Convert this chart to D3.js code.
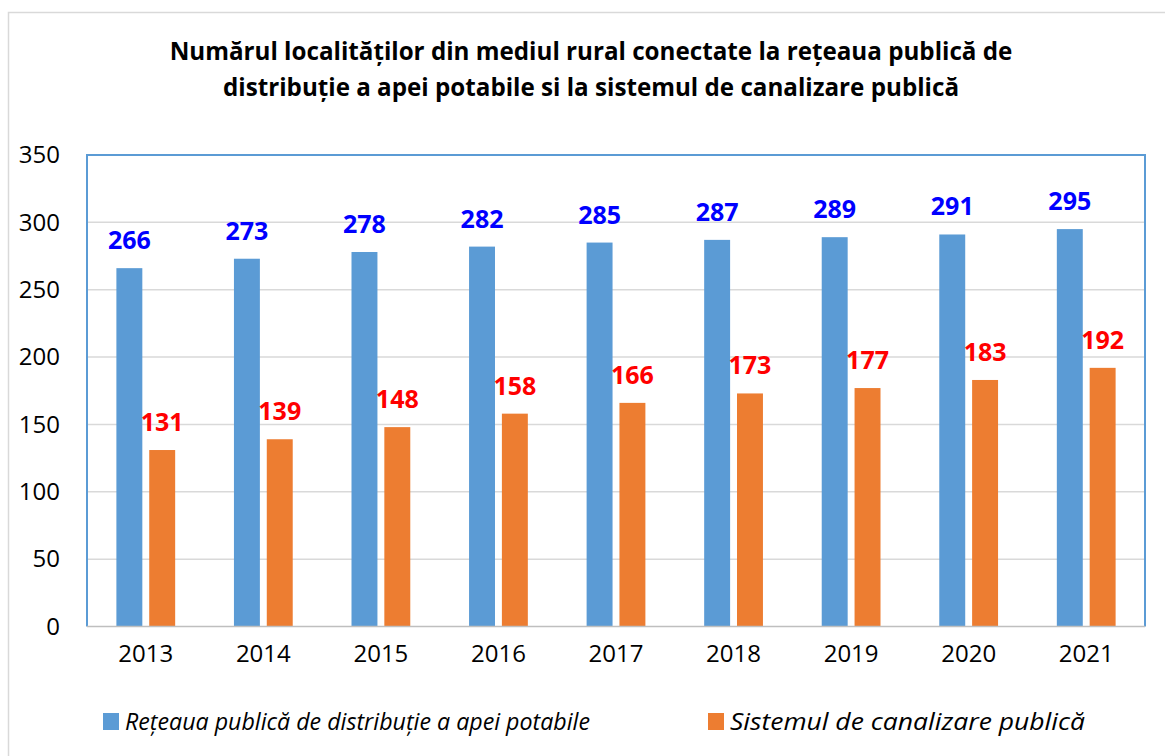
<!DOCTYPE html>
<html>
<head>
<meta charset="utf-8">
<script src="https://cdn.jsdelivr.net/npm/d3@7"></script>
<style>
  body { margin: 0; background: #fff; }
  svg { display: block; font-family: "Open Sans", "Noto Sans", sans-serif; }
</style>
</head>
<body>
<div id="chart"></div>
<script>
// Chart data
const years = ["2013", "2014", "2015", "2016", "2017", "2018", "2019", "2020", "2021"];
const apaValues = [266, 273, 278, 282, 285, 287, 289, 291, 295];
const canalValues = [131, 139, 148, 158, 166, 173, 177, 183, 192];
const seriesNames = ["Rețeaua publică de distribuție a apei potabile", "Sistemul de canalizare publică"];
const yTicks = [0, 50, 100, 150, 200, 250, 300, 350];
const titleLines = [
  "Numărul localităților din mediul rural conectate la rețeaua publică de",
  "distribuție a apei potabile si la sistemul de canalizare publică"
];

const svgWidth = 1165;
const svgHeight = 756;

// plot area edges
const plot = { left: 87, right: 1145, top: 155, bottom: 626.5 };

const barColors = ["#5b9bd5", "#ed7d31"];
const labelColors = ["#0000ff", "#ff0000"];

const svg = d3.select("#chart")
  .append("svg")
  .attr("width", svgWidth)
  .attr("height", svgHeight);

// outer chart border
svg.append("rect")
  .attr("x", 8.5)
  .attr("y", 12.5)
  .attr("width", 1170)
  .attr("height", 760)
  .attr("fill", "#fff")
  .attr("stroke", "#d9d9d9")
  .attr("stroke-width", 1.5);

// title
svg.append("text")
  .attr("x", 591)
  .attr("y", 60)
  .attr("text-anchor", "middle")
  .attr("font-weight", "bold")
  .attr("font-size", 24.2)
  .selectAll("tspan")
  .data(titleLines)
  .enter()
  .append("tspan")
  .attr("x", 591)
  .attr("dy", (d, i) => i === 0 ? 0 : 36)
  .text(d => d);

// scales
const x0 = d3.scaleBand()
  .domain(years)
  .range([plot.left, plot.right])
  .paddingInner(0.5)
  .paddingOuter(0.25);

const x1 = d3.scaleBand()
  .domain([0, 1])
  .range([0, x0.bandwidth()])
  .paddingInner(0.21);

const y = d3.scaleLinear()
  .domain([0, 350])
  .range([plot.bottom, plot.top]);

// gridlines
svg.append("g")
  .selectAll("line")
  .data(yTicks.filter(t => t > 0 && t < 350))
  .enter()
  .append("line")
  .attr("x1", plot.left)
  .attr("x2", plot.right)
  .attr("y1", d => y(d))
  .attr("y2", d => y(d))
  .attr("stroke", "#d9d9d9")
  .attr("stroke-width", 1.5);

// y axis labels
const leftAxis = d3.axisLeft(y).tickValues(yTicks).tickSize(0).tickPadding(0);
const yAxisG = svg.append("g")
  .attr("transform", "translate(60,0)")
  .call(leftAxis);
yAxisG.select(".domain").remove();
yAxisG.selectAll("text")
  .attr("font-family", "'Open Sans', sans-serif")
  .attr("font-size", 24)
  .attr("fill", "#000");

// x axis labels
const bottomAxis = d3.axisBottom(x0).tickSize(0).tickPadding(0);
const xAxisG = svg.append("g")
  .attr("transform", `translate(0, 645)`)
  .call(bottomAxis);
xAxisG.select(".domain").remove();
xAxisG.selectAll("text")
  .attr("font-family", "'Open Sans', sans-serif")
  .attr("font-size", 24)
  .attr("fill", "#000");

// bars
const rows = years.map((yr, i) => ({ year: yr, vals: [apaValues[i], canalValues[i]] }));

const groups = svg.append("g")
  .selectAll("g")
  .data(rows)
  .enter()
  .append("g")
  .attr("transform", d => `translate(${x0(d.year)},0)`);

groups.selectAll("rect")
  .data(d => d.vals.map((v, k) => ({ k: k, v: v })))
  .enter()
  .append("rect")
  .attr("x", d => x1(d.k))
  .attr("width", x1.bandwidth())
  .attr("y", d => y(d.v))
  .attr("height", d => y(0) - y(d.v))
  .attr("fill", d => barColors[d.k]);

groups.selectAll("text")
  .data(d => d.vals.map((v, k) => ({ k: k, v: v })))
  .enter()
  .append("text")
  .attr("x", d => x1(d.k) + x1.bandwidth() / 2)
  .attr("y", d => y(d.v) - 19)
  .attr("text-anchor", "middle")
  .attr("font-weight", "bold")
  .attr("font-size", 25)
  .attr("fill", d => labelColors[d.k])
  .text(d => d.v);

// plot area frame: blue on left/top/right, gray along bottom
svg.append("path")
  .attr("d", `M${plot.left},${plot.bottom}V${plot.top}H${plot.right}V${plot.bottom}`)
  .attr("fill", "none")
  .attr("stroke", "#5b9bd5")
  .attr("stroke-width", 2);

svg.append("line")
  .attr("x1", plot.left)
  .attr("x2", plot.right)
  .attr("y1", plot.bottom)
  .attr("y2", plot.bottom)
  .attr("stroke", "#bfbfbf")
  .attr("stroke-width", 1.5);

// legend
const legendX = [103, 708];
const legendTextW = [465, 355];
const legend = svg.append("g")
  .selectAll("g")
  .data(seriesNames)
  .enter()
  .append("g")
  .attr("transform", (d, i) => `translate(${legendX[i]}, 713)`);

legend.append("rect")
  .attr("width", 16)
  .attr("height", 17)
  .attr("fill", (d, i) => barColors[i]);

legend.append("text")
  .attr("x", 22)
  .attr("y", 17)
  .attr("font-style", "italic")
  .attr("font-size", 24)
  .attr("textLength", (d, i) => legendTextW[i])
  .attr("lengthAdjust", "spacingAndGlyphs")
  .attr("fill", "#000")
  .text(d => d);
</script>
</body>
</html>
